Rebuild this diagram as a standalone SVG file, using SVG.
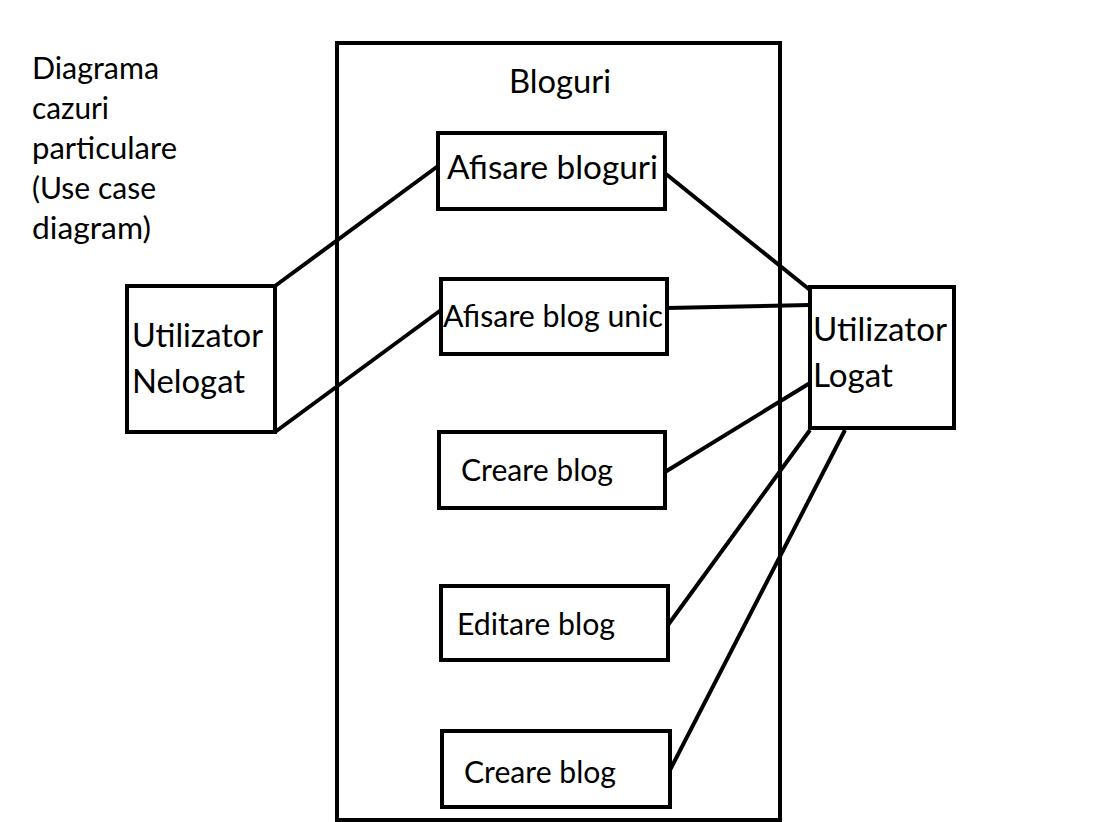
<svg xmlns="http://www.w3.org/2000/svg" width="1102" height="822" viewBox="0 0 1102 822">
<style>
.box{fill:#fff;stroke:#000;stroke-width:4}
.frame{fill:none;stroke:#000;stroke-width:4}
.conn{fill:none;stroke:#000;stroke-width:4;stroke-linecap:butt}
text{font-family:Lato,"Liberation Sans",sans-serif;fill:#000}
.t36{font-size:33px}
.t32{font-size:30px}
.t35{font-size:32px}
</style>
<rect width="1102" height="822" fill="#fff"/>
<g id="note">
<text class="t32" x="32" y="79" textLength="127" lengthAdjust="spacingAndGlyphs">Diagrama</text>
<text class="t32" x="32" y="119" textLength="77" lengthAdjust="spacingAndGlyphs">cazuri</text>
<text class="t32" x="32" y="159" textLength="145" lengthAdjust="spacingAndGlyphs">particulare</text>
<text class="t32" x="32" y="199" textLength="124" lengthAdjust="spacingAndGlyphs">(Use case</text>
<text class="t32" x="32" y="239" textLength="119" lengthAdjust="spacingAndGlyphs">diagram)</text>
</g>
<g id="system">
<rect class="frame" x="337" y="43" width="443" height="777"/>
<text class="t36" x="509" y="93" textLength="102" lengthAdjust="spacingAndGlyphs">Bloguri</text>
</g>
<g id="connectors">
<line class="conn" x1="275" y1="286" x2="438" y2="166"/>
<line class="conn" x1="275" y1="432" x2="441" y2="310"/>
<line class="conn" x1="666" y1="174" x2="810" y2="290"/>
<line class="conn" x1="667" y1="308" x2="810" y2="305"/>
<line class="conn" x1="665" y1="472" x2="810" y2="383"/>
<line class="conn" x1="668" y1="625" x2="810" y2="430"/>
<line class="conn" x1="670" y1="770" x2="845" y2="430"/>
</g>
<g id="afisare-bloguri">
<rect class="box" x="438" y="133" width="227" height="76"/>
<text class="t36" x="447" y="179" textLength="211" lengthAdjust="spacingAndGlyphs">Afisare bloguri</text>
</g>
<g id="afisare-blog-unic">
<rect class="box" x="441" y="279" width="226" height="75"/>
<text class="t32" x="443" y="327" textLength="220" lengthAdjust="spacingAndGlyphs">Afisare blog unic</text>
</g>
<g id="creare-blog-1">
<rect class="box" x="439" y="432" width="226" height="76"/>
<text class="t32" x="461" y="481" textLength="152" lengthAdjust="spacingAndGlyphs">Creare blog</text>
</g>
<g id="editare-blog">
<rect class="box" x="441" y="586" width="227" height="74"/>
<text class="t32" x="457" y="635" textLength="158" lengthAdjust="spacingAndGlyphs">Editare blog</text>
</g>
<g id="creare-blog-2">
<rect class="box" x="442" y="731" width="228" height="76"/>
<text class="t32" x="464" y="783" textLength="152" lengthAdjust="spacingAndGlyphs">Creare blog</text>
</g>
<g id="utilizator-nelogat">
<rect class="box" x="127" y="286" width="148" height="146"/>
<text class="t35" x="132" y="347" textLength="131" lengthAdjust="spacingAndGlyphs">Utilizator</text>
<text class="t35" x="132" y="393" textLength="113" lengthAdjust="spacingAndGlyphs">Nelogat</text>
</g>
<g id="utilizator-logat">
<rect class="box" x="810" y="287" width="144" height="141"/>
<text class="t35" x="813" y="341" textLength="134" lengthAdjust="spacingAndGlyphs">Utilizator</text>
<text class="t35" x="813" y="387" textLength="80" lengthAdjust="spacingAndGlyphs">Logat</text>
</g>
</svg>
